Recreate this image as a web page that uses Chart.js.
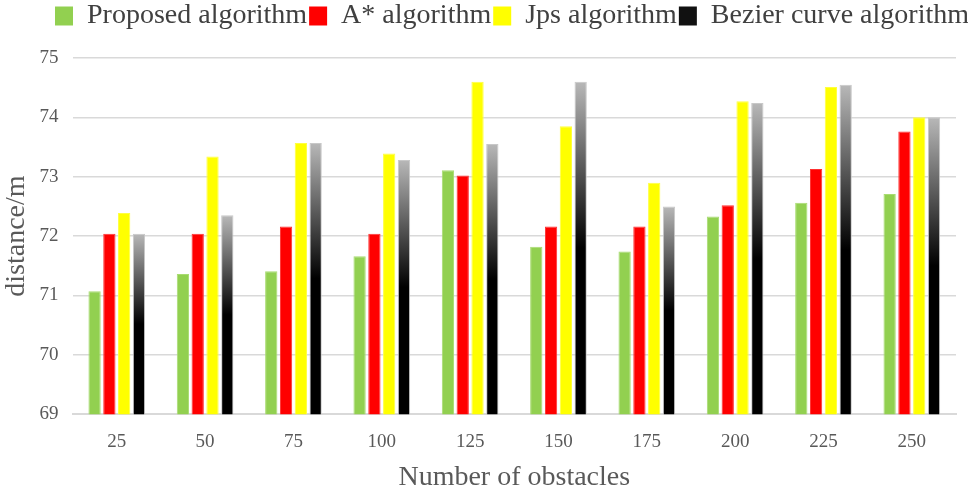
<!DOCTYPE html>
<html>
<head>
<meta charset="utf-8">
<script src="https://cdn.jsdelivr.net/npm/chart.js@4"></script>
<style>
  html, body { margin: 0; padding: 0; background: #fff; }
  #wrap { width: 968px; height: 488px; }
</style>
</head>
<body>
<div id="wrap"><canvas id="chart"></canvas></div>
<script>
// Data
const obstacles = ['25', '50', '75', '100', '125', '150', '175', '200', '225', '250'];
const proposed = [71.07, 71.36, 71.41, 71.66, 73.11, 71.82, 71.74, 72.33, 72.56, 72.71];
const aStar    = [72.04, 72.04, 72.16, 72.04, 73.02, 72.16, 72.16, 72.52, 73.13, 73.76];
const jps      = [72.39, 73.34, 73.57, 73.39, 74.60, 73.85, 72.90, 74.27, 74.51, 74.00];
const bezier   = [72.04, 72.35, 73.57, 73.28, 73.55, 74.60, 72.50, 74.24, 74.55, 74.00];

const serif = 'Liberation Serif';
const textGray = '#595959';
const gridGray = '#d9d9d9';

// gray-to-black gradient per bar, like the original
function bezierFill(context) {
  const chart = context.chart;
  const yScale = chart.scales.y;
  if (!chart.chartArea || !yScale || context.parsed == null) return '#000';
  const top = yScale.getPixelForValue(context.parsed.y);
  const bottom = yScale.getPixelForValue(yScale.min);
  const g = chart.ctx.createLinearGradient(0, top, 0, bottom);
  g.addColorStop(0, '#b8b8b8');
  g.addColorStop(0.5, '#000000');
  g.addColorStop(1, '#000000');
  return g;
}

// nudge the legend: a bit to the right and up, leaving room above the plot
const legendShift = {
  id: 'legendShift',
  afterLayout(chart) {
    const lg = chart.legend;
    if (!lg) return;
    lg.left += 34; lg.right += 34;
    lg.top -= 18; lg.bottom -= 18;
  }
};

new Chart(document.getElementById('chart'), {
  type: 'bar',
  data: {
    labels: obstacles,
    datasets: [
      { label: 'Proposed algorithm', data: proposed, backgroundColor: '#92d050', borderColor: '#a8dc70', borderWidth: 1 },
      { label: 'A* algorithm', data: aStar, backgroundColor: '#ff0000', borderColor: '#ff3030', borderWidth: 1 },
      { label: 'Jps algorithm', data: jps, backgroundColor: '#ffff00', borderColor: '#ffff40', borderWidth: 1 },
      { label: 'Bezier curve algorithm', data: bezier, backgroundColor: bezierFill, borderColor: '#c8c8c8', borderWidth: 1 }
    ]
  },
  plugins: [legendShift],
  options: {
    responsive: true,
    maintainAspectRatio: false,
    animation: false,
    layout: { padding: { left: 0, right: 12, top: 18, bottom: 0 } },
    datasets: {
      bar: { categoryPercentage: 0.67, barPercentage: 0.83 }
    },
    plugins: {
      legend: {
        position: 'top',
        labels: {
          font: { family: serif, size: 28 },
          color: '#404040',
          boxWidth: 18,
          boxHeight: 19,
          padding: 2,
          generateLabels: function(chart) {
            const items = Chart.defaults.plugins.legend.labels.generateLabels(chart);
            items[3].fillStyle = '#111';
            items.forEach(it => { it.lineWidth = 0; });
            return items;
          }
        }
      },
      tooltip: { enabled: false }
    },
    scales: {
      x: {
        grid: { display: false },
        border: { color: gridGray, width: 2 },
        ticks: { color: textGray, font: { family: serif, size: 19 }, padding: 8 },
        title: {
          display: true, text: 'Number of obstacles', color: textGray,
          font: { family: serif, size: 28, lineHeight: 1.0 }, padding: { top: 3, bottom: -4 }
        }
      },
      y: {
        min: 69, max: 75,
        grid: { color: gridGray, lineWidth: 1.5, drawTicks: false },
        border: { display: false },
        ticks: { stepSize: 1, color: textGray, font: { family: serif, size: 19 }, padding: 14 },
        title: {
          display: true, text: 'distance/m', color: textGray,
          font: { family: serif, size: 28 }, padding: { top: 0, bottom: -8 }
        }
      }
    }
  }
});
</script>
</body>
</html>
